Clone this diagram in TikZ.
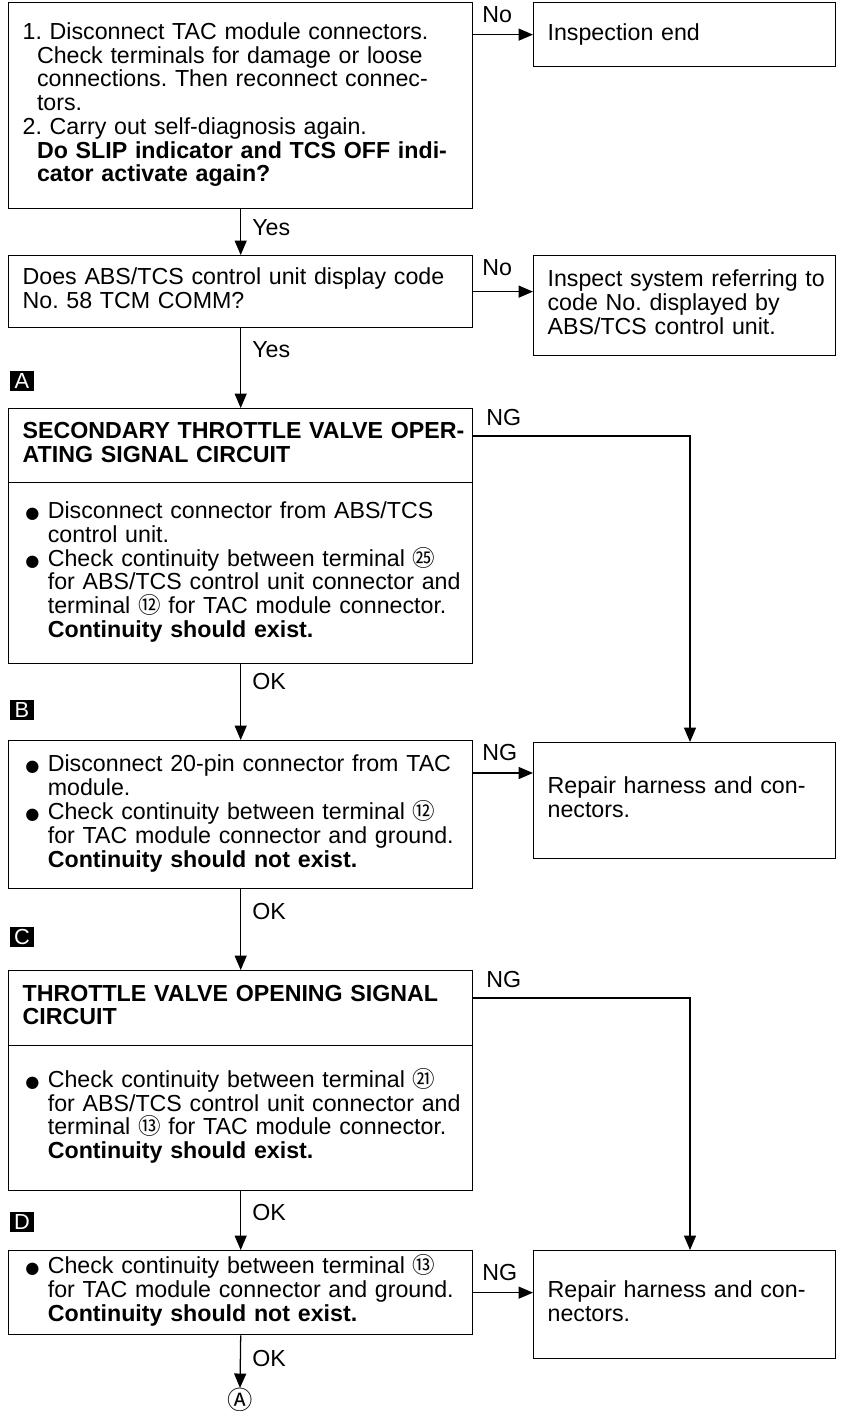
\documentclass[tikz,border=0pt]{standalone}
\usepackage{fontspec}
\setmainfont{Liberation Sans}
\newfontfamily\cjk{Noto Sans CJK SC}
\newfontfamily\dejavu{DejaVu Sans}
\usetikzlibrary{arrows.meta,calc}
\newcommand{\blt}{\hspace*{0.07cm}{\dejavu\fontsize{11.5pt}{11.5pt}\selectfont ●}}
\newcommand{\cn}[1]{\smash{\cjk\fontsize{16pt}{16pt}\selectfont #1}}
\newcommand{\hng}{\hspace*{0.36cm}}
\frenchspacing

\begin{document}
\begin{tikzpicture}[x=0.025cm,y=-0.025cm,
font=\fontsize{16.5pt}{16.7pt}\selectfont,
box/.style={draw,line width=0.9pt,anchor=north west,minimum width=11.6cm,text width=10.9cm,inner xsep=0.35cm,inner ysep=0pt,align=left},
res/.style={box,minimum width=7.55cm,text width=6.85cm},
hdr/.style={box,font=\fontsize{16.5pt}{16.7pt}\selectfont\bfseries},
tag/.style={fill=black,text=white,inner sep=0pt,minimum width=0.6cm,minimum height=0.48cm,font=\fontsize{15.5pt}{15.5pt}\selectfont},
lbl/.style={anchor=west,inner sep=0pt},
arr/.style={-{Triangle[length=3.6mm,width=3mm]},line width=0.9pt}
]
\useasboundingbox (0,0) rectangle (845,1411);

% first check and the two first questions
\node[box,minimum height=5.15cm] (chk1) at (8,2) {%
\begin{tabular}{@{}l@{}}
1. Disconnect TAC module connectors.\\
\hng Check terminals for damage or loose\\
\hng connections. Then reconnect connec-\\
\hng tors.\\
2. Carry out self-diagnosis again.\\
\hng\textbf{Do SLIP indicator and TCS OFF indi-}\\
\hng\textbf{cator activate again?}
\end{tabular}};
\node[res,minimum height=1.6cm] (endbox) at (533,2) {Inspection end};
\node[box,minimum height=1.8cm] (dtc) at (8,255) {%
\begin{tabular}{@{}l@{}}
Does ABS/TCS control unit display code\\
No. 58 TCM COMM?
\end{tabular}};
\node[res,minimum height=2.5cm] (refer) at (533,255) {%
\begin{tabular}{@{}l@{}}
Inspect system referring to\\
code No. displayed by\\
ABS/TCS control unit.
\end{tabular}};

% step A
\node[tag] (tagA) at (22,381) {A};
\node[hdr,minimum height=1.85cm] (hdrA) at (8,408) {%
\begin{tabular}{@{}l@{}}
SECONDARY THROTTLE VALVE OPER-\\
ATING SIGNAL CIRCUIT
\end{tabular}};
\node[box,minimum height=4.525cm] (bodyA) at (8,482) {%
\begin{tabular}{@{}p{0.63cm}@{}l@{}}
\blt & Disconnect connector from ABS/TCS\\
 & control unit.\\
\blt & Check continuity between terminal \cn{㉕}\\
 & for ABS/TCS control unit connector and\\
 & terminal \cn{⑫} for TAC module connector.\\
 & \textbf{Continuity should exist.}
\end{tabular}};

% step B
\node[tag] (tagB) at (22,710) {B};
\node[box,minimum height=3.7cm] (chkB) at (8,740) {%
\begin{tabular}{@{}p{0.63cm}@{}l@{}}
\blt & Disconnect 20-pin connector from TAC\\
 & module.\\
\blt & Check continuity between terminal \cn{⑫}\\
 & for TAC module connector and ground.\\
 & \textbf{Continuity should not exist.}
\end{tabular}};
\node[res,minimum height=2.9cm] (repair1) at (533,742) {%
\begin{tabular}{@{}l@{}}
Repair harness and con-\\
nectors.
\end{tabular}};

% step C
\node[tag] (tagC) at (22,937) {C};
\node[hdr,minimum height=1.875cm] (hdrC) at (8,970) {%
\begin{tabular}{@{}l@{}}
THROTTLE VALVE OPENING SIGNAL\\
CIRCUIT
\end{tabular}};
\node[box,minimum height=3.625cm] (bodyC) at (8,1045) {%
\begin{tabular}{@{}p{0.63cm}@{}l@{}}
\blt & Check continuity between terminal \cn{㉑}\\
 & for ABS/TCS control unit connector and\\
 & terminal \cn{⑬} for TAC module connector.\\
 & \textbf{Continuity should exist.}
\end{tabular}};

% step D
\node[tag] (tagD) at (22,1222) {D};
\node[box,minimum height=2.1cm] (chkD) at (8,1250) {%
\begin{tabular}{@{}p{0.63cm}@{}l@{}}
\blt & Check continuity between terminal \cn{⑬}\\
 & for TAC module connector and ground.\\
 & \textbf{Continuity should not exist.}
\end{tabular}};
\node[res,minimum height=2.7cm] (repair2) at (533,1250) {%
\begin{tabular}{@{}l@{}}
Repair harness and con-\\
nectors.
\end{tabular}};
\node[inner sep=0pt] (goA) at (240,1400) {{\cjk\fontsize{18pt}{18pt}\selectfont Ⓐ}};

% connectors
\coordinate (ngA) at (690,436);
\coordinate (ngB) at (472,773);
\coordinate (ngC) at (690,998);
\draw[arr] (endbox.west -| chk1.east) -- (endbox.west);
\draw[arr] (chk1.south) -- (dtc.north);
\draw[arr] (dtc.east) -- (dtc.east -| refer.west);
\draw[arr] (dtc.south) -- (hdrA.north);
\draw[arr] (hdrA.east |- ngA) -- (ngA) -- (repair1.north -| ngA);
\draw[arr] (bodyA.south) -- (chkB.north);
\draw[arr] (ngB) -- (ngB -| repair1.west);
\draw[arr] (chkB.south) -- (hdrC.north);
\draw[arr] (hdrC.east |- ngC) -- (ngC) -- (repair2.north -| ngC);
\draw[arr] (bodyC.south) -- (chkD.north);
\draw[arr] (chkD.east) -- (chkD.east -| repair2.west);
\draw[arr] (chkD.south) -- (goA.north);

% branch labels
\node[lbl] (no1) at (482,15) {No};
\node[lbl] (yes1) at (252,228) {Yes};
\node[lbl] (no2) at (482,268) {No};
\node[lbl] (yes2) at (252,350) {Yes};
\node[lbl] (ngAl) at (486,418) {NG};
\node[lbl] (ok1) at (252,682) {OK};
\node[lbl] (ngBl) at (482,753) {NG};
\node[lbl] (ok2) at (252,912) {OK};
\node[lbl] (ngCl) at (486,980) {NG};
\node[lbl] (ok3) at (252,1212) {OK};
\node[lbl] (ngDl) at (482,1272) {NG};
\node[lbl] (ok4) at (252,1358) {OK};
\end{tikzpicture}
\end{document}
